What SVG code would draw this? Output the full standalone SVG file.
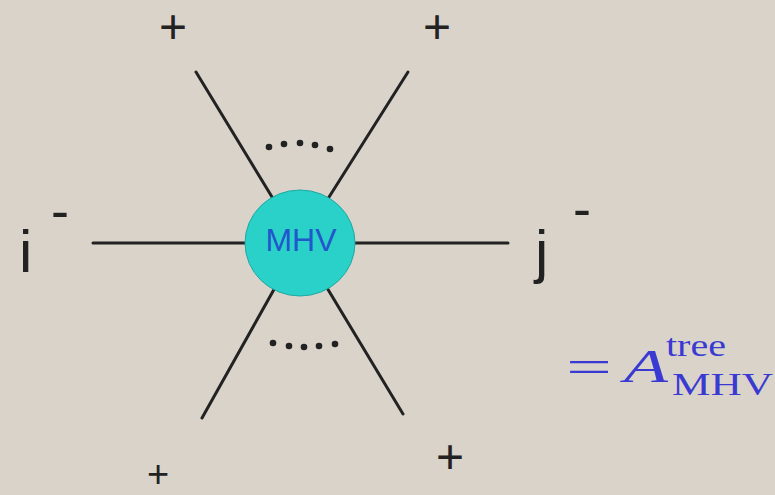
<svg xmlns="http://www.w3.org/2000/svg" width="775" height="495" viewBox="0 0 775 495">
<style>
.leg{stroke:#222;stroke-width:3;stroke-linecap:round;fill:none}
.dot{fill:#222}
.lbl{font-family:"Liberation Sans",Arial,sans-serif;fill:#222}
.plus{font-family:"Liberation Sans",Arial,sans-serif;font-size:48px;fill:#222;text-anchor:middle}
.eq{font-family:"Liberation Serif","Times New Roman",serif;fill:#3a3ad2}
</style>
<rect width="775" height="495" fill="#d9d3ca"/>
<g id="connectors">
<line class="leg" x1="196" y1="72" x2="300" y2="243"/>
<line class="leg" x1="408" y1="72" x2="300" y2="243"/>
<line class="leg" x1="202" y1="418" x2="300" y2="243"/>
<line class="leg" x1="403" y1="414" x2="300" y2="243"/>
<line class="leg" x1="93" y1="243" x2="300" y2="243"/>
<line class="leg" x1="300" y1="243" x2="508" y2="243"/>
</g>
<g id="dots-top">
<circle class="dot" cx="269" cy="147" r="3.3"/>
<circle class="dot" cx="284" cy="144" r="3.3"/>
<circle class="dot" cx="300" cy="143" r="3.3"/>
<circle class="dot" cx="315" cy="145" r="3.3"/>
<circle class="dot" cx="330" cy="149" r="3.3"/>
</g>
<g id="dots-bottom">
<circle class="dot" cx="273" cy="343" r="3.3"/>
<circle class="dot" cx="289" cy="346" r="3.3"/>
<circle class="dot" cx="304" cy="347" r="3.3"/>
<circle class="dot" cx="319" cy="346" r="3.3"/>
<circle class="dot" cx="335" cy="344" r="3.3"/>
</g>
<g id="mhv">
<ellipse cx="300" cy="243" rx="55" ry="53" fill="#2ad1c9" stroke="#1fa8a2" stroke-width="1"/>
<text x="301" y="251" font-family="'Liberation Sans',Arial,sans-serif" font-size="32" fill="#2257cc" text-anchor="middle">MHV</text>
</g>
<g id="labels">
<text class="plus" x="173" y="43">+</text>
<text class="plus" x="437" y="43">+</text>
<text class="plus" x="158" y="487" style="font-size:38px">+</text>
<text class="plus" x="450" y="473">+</text>
<text class="lbl" x="19" y="272" font-size="60">i</text>
<text class="lbl" x="51" y="229" font-size="54">-</text>
<text class="lbl" x="535" y="272" font-size="60">j</text>
<text class="lbl" x="573" y="227" font-size="54">-</text>
</g>
<g id="equation">
<text class="eq" x="566" y="382" font-size="46" textLength="46" lengthAdjust="spacingAndGlyphs">=</text>
<text class="eq" x="624" y="382" font-size="46" font-style="italic" textLength="44" lengthAdjust="spacingAndGlyphs">A</text>
<text class="eq" x="666" y="356" font-size="31" textLength="60" lengthAdjust="spacingAndGlyphs">tree</text>
<text class="eq" x="672" y="395" font-size="32" textLength="101" lengthAdjust="spacingAndGlyphs">MHV</text>
</g>
</svg>
